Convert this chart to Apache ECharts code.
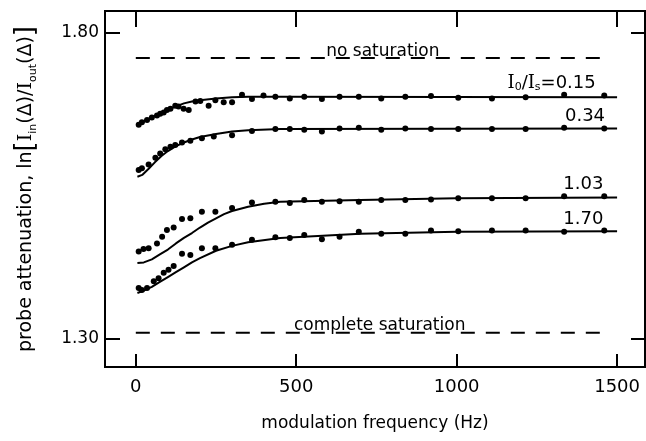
<!DOCTYPE html>
<html>
<head>
<meta charset="utf-8">
<script src="https://cdn.jsdelivr.net/npm/echarts@6/dist/echarts.min.js"></script>
<style>
  html, body { margin: 0; background: #fff; }
  #chart { width: 646px; height: 441px; }
</style>
</head>
<body>
<div id="chart"></div>
<script>
// measured points, I0/Is = 0.15
const freq015 = [9, 19, 35, 50, 66, 76, 87, 97, 108, 123, 133, 149, 165, 186, 201, 227, 248, 274, 300, 331, 362, 398,
  435, 480, 525, 580, 635, 695, 765, 840, 920, 1005, 1110, 1215, 1335, 1460]
const att015 = [1.650, 1.654, 1.658, 1.662, 1.665, 1.668, 1.670, 1.674, 1.676, 1.681, 1.680, 1.676, 1.674, 1.688, 1.689, 1.681, 1.690, 1.687, 1.687, 1.699, 1.692, 1.698,
  1.696, 1.693, 1.696, 1.692, 1.696, 1.696, 1.693, 1.696, 1.697, 1.694, 1.693, 1.695, 1.699, 1.698]

// I0/Is = 0.34
const freq034 = [9, 19, 40, 61, 76, 92, 108, 123, 144, 170, 206, 243, 300, 362,
  435, 480, 525, 580, 635, 695, 765, 840, 920, 1005, 1110, 1215, 1335, 1460]
const att034 = [1.576, 1.579, 1.585, 1.596, 1.603, 1.610, 1.614, 1.617, 1.621, 1.624, 1.628, 1.631, 1.633, 1.640,
  1.643, 1.643, 1.642, 1.639, 1.644, 1.645, 1.642, 1.644, 1.643, 1.643, 1.643, 1.643, 1.645, 1.644]

// I0/Is = 1.03
const freq103 = [9, 24, 40, 66, 82, 97, 118, 144, 170, 206, 248, 300, 362,
  435, 480, 525, 580, 635, 695, 765, 840, 920, 1005, 1110, 1215, 1335, 1460]
const att103 = [1.443, 1.447, 1.448, 1.456, 1.467, 1.478, 1.482, 1.496, 1.497, 1.508, 1.508, 1.514, 1.523,
  1.524, 1.522, 1.527, 1.524, 1.525, 1.524, 1.527, 1.527, 1.528, 1.530, 1.530, 1.530, 1.533, 1.533]

// I0/Is = 1.70
const freq170 = [9, 19, 35, 56, 71, 87, 102, 118, 144, 170, 206, 248, 300, 362,
  435, 480, 525, 580, 635, 695, 765, 840, 920, 1005, 1110, 1215, 1335, 1460]
const att170 = [1.383, 1.380, 1.383, 1.394, 1.399, 1.408, 1.413, 1.419, 1.439, 1.437, 1.448, 1.448, 1.454, 1.462,
  1.466, 1.465, 1.470, 1.463, 1.467, 1.475, 1.472, 1.472, 1.477, 1.476, 1.477, 1.477, 1.475, 1.477]

// fitted curves
const fitFreq015 = [5, 25, 50, 75, 100, 125, 150, 175, 200, 250, 300, 350, 450, 1500]
const fitAtt015 = [1.651, 1.656, 1.662, 1.668, 1.675, 1.680, 1.685, 1.688, 1.690, 1.693, 1.695, 1.696, 1.696, 1.695]
const fitFreq034 = [5, 20, 40, 60, 80, 100, 125, 150, 175, 200, 250, 300, 350, 450, 1500]
const fitAtt034 = [1.565, 1.568, 1.578, 1.589, 1.599, 1.607, 1.615, 1.621, 1.626, 1.630, 1.635, 1.639, 1.641, 1.643, 1.644]
const fitFreq103 = [5, 25, 50, 75, 100, 125, 150, 175, 200, 225, 250, 275, 300, 350, 400, 450, 700, 1000, 1500]
const fitAtt103 = [1.424, 1.425, 1.430, 1.438, 1.446, 1.456, 1.465, 1.473, 1.482, 1.490, 1.497, 1.504, 1.509, 1.516, 1.521, 1.524, 1.527, 1.530, 1.531]
const fitFreq170 = [5, 25, 50, 75, 100, 125, 150, 175, 200, 250, 300, 350, 450, 700, 1000, 1500]
const fitAtt170 = [1.375, 1.379, 1.385, 1.393, 1.401, 1.409, 1.417, 1.425, 1.432, 1.444, 1.452, 1.458, 1.465, 1.472, 1.475, 1.476]

// limits
const limitFreq = [0, 1460]
const noSat = 1.759
const completeSat = 1.310

const xTicks = [0, 500, 1000, 1500]
const yTicks = [1.30, 1.80]

const font = 'DejaVu Sans'
const zip = (xs, ys) => xs.map((x, i) => [x, ys[i]])

function dots(name, xs, ys) {
  return {
    name: name,
    type: 'scatter',
    symbol: 'circle',
    symbolSize: 6,
    itemStyle: { color: '#000', opacity: 1 },
    data: zip(xs, ys),
    z: 3
  }
}

function note(coord, text, size) {
  return {
    symbol: 'circle',
    symbolSize: 0,
    silent: true,
    label: {
      show: true,
      position: 'inside',
      color: '#000',
      fontFamily: font,
      fontSize: size,
      formatter: text,
      rich: {
        i: { fontFamily: 'DejaVu Serif', fontSize: size, color: '#000' },
        s: { fontFamily: font, fontSize: 11, color: '#000', verticalAlign: 'bottom' }
      }
    },
    data: [{ coord: coord }]
  }
}

function fit(name, xs, ys, label) {
  return {
    name: name,
    type: 'line',
    showSymbol: false,
    lineStyle: { color: '#000', width: 2, join: 'round' },
    data: zip(xs, ys),
    markPoint: note(label.coord, label.text, 18),
    z: 2
  }
}

function limit(value, label) {
  return {
    type: 'line',
    showSymbol: false,
    lineStyle: { color: '#000', width: 2, type: [14, 11] },
    data: limitFreq.map(f => [f, value]),
    markPoint: note(label.coord, label.text, 17)
  }
}

const chart = echarts.init(document.getElementById('chart'))

const tickStyle = { color: '#000', width: 2 }

chart.setOption({
  backgroundColor: '#fff',
  animation: false,
  grid: {
    left: 105, right: 1, top: 11, bottom: 74,
    show: true,
    borderColor: '#000',
    borderWidth: 2
  },
  xAxis: [{
    type: 'value',
    position: 'bottom',
    min: -96,
    max: 1587,
    axisLine: { show: false, onZero: false },
    splitLine: { show: false },
    axisTick: { show: true, inside: true, length: 13, customValues: xTicks, lineStyle: tickStyle },
    axisLabel: { customValues: xTicks, color: '#000', fontFamily: font, fontSize: 18, margin: 11, formatter: v => String(v) },
    name: 'modulation frequency (Hz)',
    nameLocation: 'middle',
    nameGap: 48,
    nameTextStyle: { color: '#000', fontFamily: font, fontSize: 17 }
  }, {
    type: 'value',
    position: 'top',
    min: -96,
    max: 1587,
    axisLine: { show: false, onZero: false },
    splitLine: { show: false },
    axisTick: { show: true, inside: true, length: 16, customValues: xTicks, lineStyle: tickStyle },
    axisLabel: { show: false }
  }],
  yAxis: [{
    type: 'value',
    position: 'left',
    min: 1.254,
    max: 1.836,
    axisLine: { show: false, onZero: false },
    splitLine: { show: false },
    axisTick: { show: true, inside: true, length: 15, customValues: yTicks, lineStyle: tickStyle },
    axisLabel: {
      customValues: yTicks,
      color: '#000', fontFamily: font, fontSize: 17, margin: 6,
      formatter: v => v.toFixed(2)
    },
    name: '{t|probe attenuation, ln}{b|[}{i|I}{s|in}{t|(Δ)/}{i|I}{s|out}{t|(Δ)}{b|]}',
    nameLocation: 'middle',
    nameGap: 66,
    nameTextStyle: {
      color: '#000',
      rich: {
        t: { fontFamily: font, fontSize: 19, color: '#000' },
        b: { fontFamily: font, fontSize: 26, color: '#000' },
        i: { fontFamily: 'DejaVu Serif', fontSize: 19, color: '#000' },
        s: { fontFamily: font, fontSize: 11, color: '#000', verticalAlign: 'bottom' }
      }
    }
  }, {
    type: 'value',
    position: 'right',
    min: 1.254,
    max: 1.836,
    axisLine: { show: false, onZero: false },
    splitLine: { show: false },
    axisTick: { show: true, inside: true, length: 14, customValues: yTicks, lineStyle: tickStyle },
    axisLabel: { show: false }
  }],
  series: [
    limit(noSat, { coord: [770, 1.769], text: 'no saturation' }),
    limit(completeSat, { coord: [760, 1.321], text: 'complete saturation' }),
    fit('0.15', fitFreq015, fitAtt015, { coord: [1296, 1.718], text: '{i|I}{s|0}/{i|I}{s|s}=0.15' }),
    fit('0.34', fitFreq034, fitAtt034, { coord: [1400, 1.664], text: '0.34' }),
    fit('1.03', fitFreq103, fitAtt103, { coord: [1395, 1.553], text: '1.03' }),
    fit('1.70', fitFreq170, fitAtt170, { coord: [1395, 1.496], text: '1.70' }),
    dots('0.15', freq015, att015),
    dots('0.34', freq034, att034),
    dots('1.03', freq103, att103),
    dots('1.70', freq170, att170)
  ]
})
</script>
</body>
</html>
